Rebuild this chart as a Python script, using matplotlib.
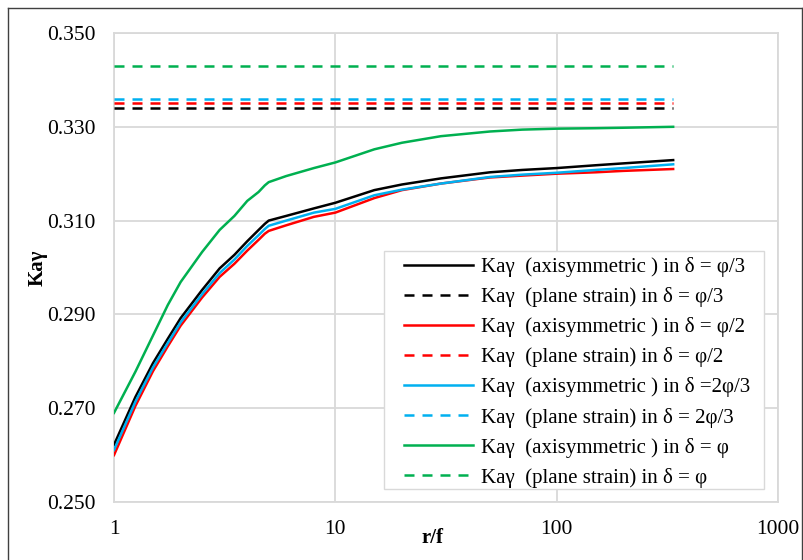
import matplotlib
matplotlib.use("Agg")
import matplotlib.pyplot as plt
from matplotlib.lines import Line2D
from matplotlib.patches import Rectangle

plt.rcParams["font.family"] = ["Liberation Serif", "DejaVu Serif"]

# r/f values where the axisymmetric curves were sampled
r_f = [1, 1.25, 1.5, 1.75, 2, 2.5, 3, 3.5, 4, 4.5, 4.8, 5, 6, 8, 10,
       15, 20, 30, 50, 70, 100, 150, 200, 336]

# Kaγ axisymmetric, one list per wall friction angle
axi_phi3 = [0.2622, 0.2724, 0.2796, 0.2848, 0.2892, 0.2952, 0.2998, 0.3027,
            0.3056, 0.3080, 0.3093, 0.3100, 0.3110, 0.3126, 0.3138, 0.3165,
            0.3177, 0.3190, 0.3203, 0.3208, 0.3212, 0.3218, 0.3222, 0.3229]
axi_phi2 = [0.2600, 0.2705, 0.2779, 0.2832, 0.2876, 0.2936, 0.2980, 0.3008,
            0.3036, 0.3059, 0.3072, 0.3078, 0.3090, 0.3108, 0.3117, 0.3148,
            0.3165, 0.3179, 0.3192, 0.3196, 0.3200, 0.3203, 0.3206, 0.3210]
axi_2phi3 = [0.2611, 0.2714, 0.2787, 0.2839, 0.2883, 0.2943, 0.2988, 0.3017,
             0.3046, 0.3069, 0.3082, 0.3089, 0.3100, 0.3117, 0.3125, 0.3154,
             0.3166, 0.3179, 0.3193, 0.3198, 0.3202, 0.3208, 0.3212, 0.3220]
axi_phi = [0.2690, 0.2778, 0.2855, 0.2920, 0.2969, 0.3033, 0.3080, 0.3110,
           0.3142, 0.3161, 0.3175, 0.3182, 0.3195, 0.3212, 0.3224, 0.3252,
           0.3266, 0.3280, 0.3290, 0.3294, 0.3296, 0.3297, 0.3298, 0.3300]

# Kaγ plane strain (constant)
ps_phi3 = 0.334
ps_phi2 = 0.335
ps_2phi3 = 0.336
ps_phi = 0.343

labels_axi = ["Kaγ  (axisymmetric ) in δ = φ/3",
              "Kaγ  (axisymmetric ) in δ = φ/2",
              "Kaγ  (axisymmetric ) in δ =2φ/3",
              "Kaγ  (axisymmetric ) in δ = φ"]
labels_ps = ["Kaγ  (plane strain) in δ = φ/3",
             "Kaγ  (plane strain) in δ = φ/2",
             "Kaγ  (plane strain) in δ = 2φ/3",
             "Kaγ  (plane strain) in δ = φ"]
colors = ["#000000", "#ff0000", "#00b0f0", "#00b050"]

x_ticks = [1, 10, 100, 1000]
y_ticks = [0.250, 0.270, 0.290, 0.310, 0.330, 0.350]

fig = plt.figure(figsize=(8.04, 5.6), dpi=100)
ax = fig.add_axes([114 / 804, 1 - 502 / 560, 664 / 804, 469 / 560])

axi = [axi_phi3, axi_phi2, axi_2phi3, axi_phi]
ps = [ps_phi3, ps_phi2, ps_2phi3, ps_phi]
handles = []
for vals, pval, col, la, lp in zip(axi, ps, colors, labels_axi, labels_ps):
    h1, = ax.plot(r_f, vals, color=col, lw=1.8, label=la, zorder=3)
    h2, = ax.plot([r_f[0], r_f[-1]], [pval, pval], color=col, lw=1.8,
                  dashes=(4, 3.2), label=lp, zorder=3)
    handles += [h1, h2]

ax.set_xscale("log")
ax.set_xlim(1, 1000)
ax.set_ylim(0.25, 0.35)
ax.set_xticks(x_ticks)
ax.set_xticklabels([str(t) for t in x_ticks])
ax.minorticks_off()
ax.set_yticks(y_ticks)
ax.set_yticklabels([f"{t:.3f}" for t in y_ticks])
ax.tick_params(length=0, labelsize=15.5, pad=13)
ax.grid(True, color="#d9d9d9", lw=1.3)
ax.set_axisbelow(True)
for s in ax.spines.values():
    s.set_color("#d9d9d9")
    s.set_linewidth(1.3)

ax.set_ylabel("Kaγ", fontsize=15, fontweight="bold", labelpad=0)
fig.text(433 / 804, 1 - 538 / 560, "r/f", fontsize=15, fontweight="bold",
         ha="center", va="center")

# legend box drawn separately so the padding matches the original
ax.add_patch(Rectangle((0.4066, 0.0277), 0.5723, 0.5075, transform=ax.transAxes,
                       facecolor="white", edgecolor="#d9d9d9", lw=1.0,
                       zorder=4, clip_on=False))
leg = ax.legend(handles=handles, loc="upper left",
                bbox_to_anchor=(0.4367, 0.5224), borderaxespad=0,
                fontsize=15, handlelength=3.3, handletextpad=0.4,
                labelspacing=0.485, borderpad=0, frameon=False)
leg.set_zorder(5)

# outer chart border
for xs, ys in [([8, 8], [8, 560]), ([8, 802], [8, 8]), ([802, 802], [8, 560])]:
    fig.add_artist(Line2D([x / 804 for x in xs], [1 - y / 560 for y in ys],
                          color="#404040", lw=1.0))

fig.savefig("out.png", dpi=100)
